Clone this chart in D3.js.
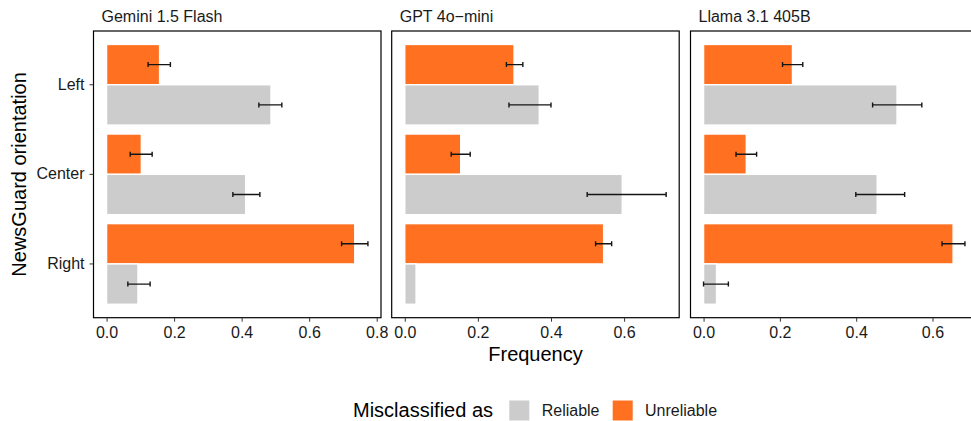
<!DOCTYPE html>
<html>
<head>
<meta charset="utf-8">
<script src="https://cdn.jsdelivr.net/npm/d3@7"></script>
<style>
  html, body { margin: 0; padding: 0; background: #fff; }
  svg { display: block; font-family: "Liberation Sans", Arial, Helvetica, sans-serif; }
</style>
</head>
<body>
<svg id="chart" width="971" height="421"></svg>
<script>
// ---- data ----
const categories = ["Left", "Center", "Right"];
const models = ["Gemini 1.5 Flash", "GPT 4o\u2212mini", "Llama 3.1 405B"];
const groups = ["Unreliable", "Reliable"];
const legendLabels = ["Reliable", "Unreliable"];

// Misclassified as Reliable (per model, per category Left/Center/Right)
const reliableValue = [[0.487, 0.412, 0.093], [0.368, 0.595, 0.031], [0.507, 0.455, 0.034]];
const reliableLow   = [[0.451, 0.374, 0.063], [0.285, 0.499, null],  [0.443, 0.399, 0.000]];
const reliableHigh  = [[0.519, 0.454, 0.129], [0.400, 0.715, null],  [0.572, 0.527, 0.065]];

// Misclassified as Unreliable
const unreliableValue = [[0.157, 0.103, 0.735], [0.299, 0.153, 0.544], [0.233, 0.112, 0.654]];
const unreliableLow   = [[0.123, 0.070, 0.696], [0.278, 0.127, 0.522], [0.207, 0.085, 0.625]];
const unreliableHigh  = [[0.189, 0.135, 0.774], [0.323, 0.179, 0.566], [0.260, 0.139, 0.685]];

const xTickValues = [0, 0.2, 0.4, 0.6, 0.8];

// ---- layout ----
const colors = { Reliable: "#cccccc", Unreliable: "#ff7020" };
const panelLefts = [93.5, 391.7, 690.5];
const panelW = 287.5;
const panelTop = 31, panelBottom = 317.7;
const textCol = "#1a1a1a";

const svg = d3.select("#chart");

const y = d3.scaleBand().domain(categories).range([panelTop, panelBottom])
  .paddingInner(0.1).paddingOuter(0.15);
const yDodge = d3.scaleBand().domain(groups).range([0, y.bandwidth()]);

models.forEach((m, mi) => {
  const rows = [];
  categories.forEach((c, ci) => {
    rows.push({ cat: c, group: "Unreliable", v: unreliableValue[mi][ci], lo: unreliableLow[mi][ci], hi: unreliableHigh[mi][ci] });
    rows.push({ cat: c, group: "Reliable", v: reliableValue[mi][ci], lo: reliableLow[mi][ci], hi: reliableHigh[mi][ci] });
  });
  const M = d3.max(rows, d => Math.max(d.v, d.hi == null ? 0 : d.hi));
  const left = panelLefts[mi];
  const x = d3.scaleLinear().domain([-0.05 * M, 1.05 * M]).range([left, left + panelW]);

  const g = svg.append("g");

  const clipId = "clip" + mi;
  svg.append("clipPath").attr("id", clipId).append("rect")
    .attr("x", left).attr("y", panelTop).attr("width", panelW).attr("height", panelBottom - panelTop);

  const inner = g.append("g").attr("clip-path", `url(#${clipId})`);

  inner.selectAll("rect.bar").data(rows).join("rect")
    .attr("class", "bar")
    .attr("x", x(0))
    .attr("y", d => y(d.cat) + yDodge(d.group))
    .attr("width", d => x(d.v) - x(0))
    .attr("height", yDodge.bandwidth())
    .attr("fill", d => colors[d.group])
    .attr("stroke", "#ffffff")
    .attr("stroke-width", 1.4);

  const eb = rows.filter(d => d.lo != null && d.hi != null);
  const cap = 2.5;
  const cy = d => y(d.cat) + yDodge(d.group) + yDodge.bandwidth() / 2;
  const ebg = inner.selectAll("g.eb").data(eb).join("g").attr("class", "eb")
    .attr("stroke", "#141414").attr("stroke-width", 1.4).attr("fill", "none");
  ebg.append("line")
    .attr("x1", d => x(d.lo)).attr("x2", d => x(d.hi))
    .attr("y1", cy).attr("y2", cy);
  ebg.append("line")
    .attr("x1", d => x(d.lo)).attr("x2", d => x(d.lo))
    .attr("y1", d => cy(d) - cap).attr("y2", d => cy(d) + cap);
  ebg.append("line")
    .attr("x1", d => x(d.hi)).attr("x2", d => x(d.hi))
    .attr("y1", d => cy(d) - cap).attr("y2", d => cy(d) + cap);

  // panel border
  g.append("rect")
    .attr("x", left).attr("y", panelTop).attr("width", panelW).attr("height", panelBottom - panelTop)
    .attr("fill", "none").attr("stroke", "#000").attr("stroke-width", 1.2);

  // x axis
  const dom = x.domain();
  const xAxis = d3.axisBottom(x)
    .tickValues(xTickValues.filter(t => t >= dom[0] && t <= dom[1]))
    .tickFormat(d3.format(".1f"))
    .tickSize(4).tickPadding(5);
  const ax = g.append("g").attr("transform", `translate(0,${panelBottom})`).call(xAxis);
  ax.select(".domain").remove();
  ax.selectAll(".tick line").attr("stroke", "#333").attr("stroke-width", 1);
  ax.selectAll(".tick text").attr("fill", textCol).attr("font-size", 16)
    .attr("font-family", "Liberation Sans, Arial, sans-serif");

  // strip title
  g.append("text").attr("x", left + 8).attr("y", 21.7)
    .attr("font-size", 16).attr("fill", textCol).text(m);

  if (mi === 0) {
    const yAxis = d3.axisLeft(y).tickSize(4).tickPadding(5);
    const ay = g.append("g").attr("transform", `translate(${left},0)`).call(yAxis);
    ay.select(".domain").remove();
    ay.selectAll(".tick line").attr("stroke", "#333").attr("stroke-width", 1);
    ay.selectAll(".tick text").attr("fill", textCol).attr("font-size", 16)
      .attr("font-family", "Liberation Sans, Arial, sans-serif");
  }
});

// axis titles
svg.append("text").attr("transform", "translate(26,174.4) rotate(-90)")
  .attr("text-anchor", "middle").attr("font-size", 20).attr("fill", "#000")
  .text("NewsGuard orientation");
svg.append("text").attr("x", 535.5).attr("y", 361)
  .attr("text-anchor", "middle").attr("font-size", 20).attr("fill", "#000")
  .text("Frequency");

// legend
const lg = svg.append("g");
lg.append("text").attr("x", 353).attr("y", 417).attr("font-size", 20).attr("fill", "#000")
  .text("Misclassified as");
const keyX = [509.3, 612.7];
const labX = [541.7, 645];
legendLabels.forEach((l, i) => {
  lg.append("rect").attr("x", keyX[i]).attr("y", 400.5).attr("width", 20).attr("height", 20)
    .attr("fill", colors[l]);
  lg.append("text").attr("x", labX[i]).attr("y", 416.3).attr("font-size", 16).attr("fill", textCol)
    .text(l);
});
</script>
</body>
</html>
